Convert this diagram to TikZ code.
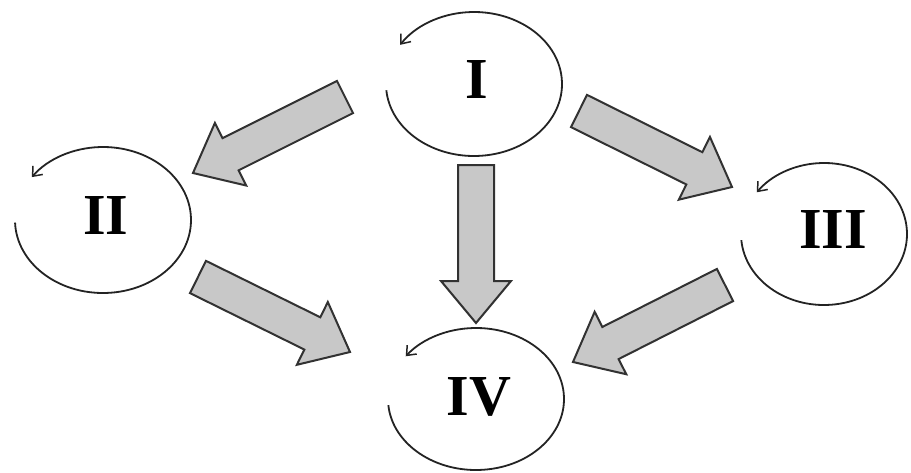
\documentclass[tikz,border=0pt]{standalone}
\usepackage{fontspec}
\setmainfont{Liberation Serif}
\usetikzlibrary{calc,arrows.meta}
\definecolor{arrfill}{RGB}{200,200,200}
\definecolor{arredge}{RGB}{50,50,50}
\definecolor{loopline}{RGB}{35,35,35}
\tikzset{
  numeral/.style={font=\bfseries\fontsize{58}{60}\selectfont, inner sep=0pt},
  loopline/.style={draw=loopline, line width=1.8pt, -{Straight Barb[length=8pt,width=13pt,line width=1.5pt]}},
  blockarrow/.style={draw=arredge, fill=arrfill, line width=2pt, line join=miter}
}
\newcommand{\blockarr}[2]{%
  \path ($(#2)!42pt!(#1)$) coordinate (tmpH);
  \draw[blockarrow] ($(#1)!18pt!90:(#2)$) -- ($(tmpH)!18pt!90:(#2)$) -- ($(tmpH)!35pt!90:(#2)$) -- (#2)
    -- ($(tmpH)!35pt!-90:(#2)$) -- ($(tmpH)!18pt!-90:(#2)$) -- ($(#1)!18pt!-90:(#2)$) -- cycle;
}
\begin{document}
\begin{tikzpicture}[x=1pt,y=-1pt]
\useasboundingbox[fill=white] (0,0) rectangle (911,472);
% centres of the loops
\coordinate (cI) at (474,84);
\coordinate (cII) at (103,220);
\coordinate (cIII) at (824,234);
\coordinate (cIV) at (476,399);
% labels
\node[numeral] (I) at (477,80) {I};
\node[numeral] (II) at (106,216) {II};
\node[numeral] (III) at (833,230) {III};
\node[numeral] (IV) at (479,397) {IV};
% loops
\draw[loopline] ($(cI)+(175:88 and 72)$) arc[start angle=175, end angle=-147, x radius=88, y radius=72];
\draw[loopline] ($(cII)+(178:88 and 73)$) arc[start angle=178, end angle=-144, x radius=88, y radius=73];
\draw[loopline] ($(cIII)+(175:83 and 71)$) arc[start angle=175, end angle=-144, x radius=83, y radius=71];
\draw[loopline] ($(cIV)+(175:88 and 71)$) arc[start angle=175, end angle=-143, x radius=88, y radius=71];
% block arrow ends
\coordinate (t12) at (345,97);   \coordinate (h12) at (193,173);
\coordinate (t14) at (476,165);  \coordinate (h14) at (476,323);
\coordinate (t13) at (579,111);  \coordinate (h13) at (732,187);
\coordinate (t24) at (198,277);  \coordinate (h24) at (350,352);
\coordinate (t34) at (725,285);  \coordinate (h34) at (573,362);
\blockarr{t12}{h12}
\blockarr{t14}{h14}
\blockarr{t13}{h13}
\blockarr{t24}{h24}
\blockarr{t34}{h34}
\end{tikzpicture}
\end{document}
